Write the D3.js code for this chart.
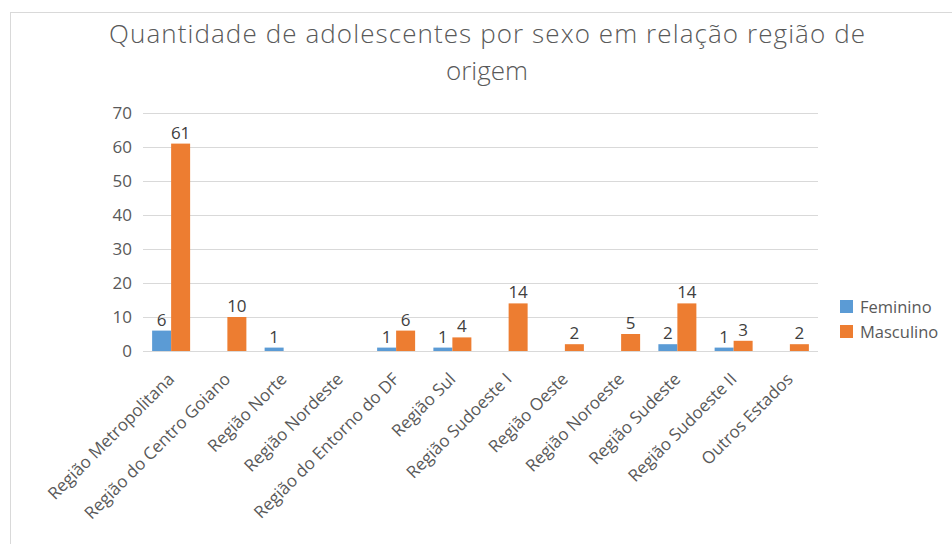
<!DOCTYPE html>
<html>
<head>
<meta charset="utf-8">
<script src="https://cdn.jsdelivr.net/npm/d3@7"></script>
<style>
  body { margin: 0; background: #fff; }
  text { font-family: "Open Sans", sans-serif; }
</style>
</head>
<body>
<div id="chart"></div>
<script>
const categories = [
  "Região Metropolitana", "Região do Centro Goiano", "Região Norte", "Região Nordeste",
  "Região do Entorno do DF", "Região Sul", "Região Sudoeste I", "Região Oeste",
  "Região Noroeste", "Região Sudeste", "Região Sudoeste II", "Outros Estados"
];
const feminino = [6, 0, 1, 0, 1, 1, 0, 0, 0, 2, 1, 0];
const masculino = [61, 10, 0, 0, 6, 4, 14, 2, 5, 14, 3, 2];
const seriesNames = ["Feminino", "Masculino"];
const yTicks = [0, 10, 20, 30, 40, 50, 60, 70];

const width = 952, height = 544;
const colors = ["#5b9bd5", "#ed7d31"];

const svg = d3.select("#chart").append("svg")
  .attr("width", width)
  .attr("height", height);

// chart border
svg.append("rect")
  .attr("x", 10.5).attr("y", 12.5)
  .attr("width", 960).attr("height", 560)
  .attr("fill", "none")
  .attr("stroke", "#d9d9d9");

// title, two lines
svg.append("text")
  .attr("x", 487).attr("y", 43)
  .attr("text-anchor", "middle")
  .attr("font-size", 26).attr("font-weight", 300)
  .attr("fill", "#595959")
  .attr("textLength", 756).attr("lengthAdjust", "spacing")
  .text("Quantidade de adolescentes por sexo em relação região de");
svg.append("text")
  .attr("x", 487).attr("y", 80)
  .attr("text-anchor", "middle")
  .attr("font-size", 26).attr("font-weight", 300)
  .attr("fill", "#595959")
  .text("origem");

const x = d3.scaleBand().domain(categories).range([143, 818]).paddingInner(0).paddingOuter(0);
const y = d3.scaleLinear().domain([0, 70]).range([351, 113]);
const barW = 19;

// gridlines
svg.append("g").selectAll("line")
  .data(yTicks)
  .join("line")
  .attr("x1", 143).attr("x2", 818)
  .attr("y1", d => y(d) + 0.5).attr("y2", d => y(d) + 0.5)
  .attr("stroke", "#d9d9d9");

// y axis labels
const yAxis = d3.axisLeft(y).tickValues(yTicks).tickSize(0).tickPadding(11);
svg.append("g")
  .attr("transform", "translate(143,0)")
  .call(yAxis)
  .call(g => g.select(".domain").remove())
  .call(g => g.selectAll("text").attr("font-size", 17).attr("fill", "#595959")
    .attr("font-family", "Open Sans, sans-serif"));

// bars
const series = [feminino, masculino];
series.forEach((vals, s) => {
  const g = svg.append("g");
  const data = vals.map((v, i) => ({ cat: categories[i], v }));
  const xOff = d => x(d.cat) + x.bandwidth() / 2 - barW + s * barW;
  g.selectAll("rect")
    .data(data.filter(d => d.v > 0))
    .join("rect")
    .attr("x", xOff)
    .attr("y", d => y(d.v))
    .attr("width", barW)
    .attr("height", d => y(0) - y(d.v))
    .attr("fill", colors[s]);
  g.selectAll("text")
    .data(data.filter(d => d.v > 0))
    .join("text")
    .attr("x", d => xOff(d) + barW / 2)
    .attr("y", d => y(d.v) - 5)
    .attr("text-anchor", "middle")
    .attr("font-size", 17)
    .attr("fill", "#404040")
    .text(d => d.v);
});

// x axis labels
const xAxis = d3.axisBottom(x).tickSize(0).tickPadding(0);
svg.append("g")
  .attr("transform", "translate(0,351)")
  .call(xAxis)
  .call(g => g.select(".domain").remove())
  .call(g => g.selectAll("text")
    .attr("font-size", 17).attr("fill", "#595959")
    .attr("font-family", "Open Sans, sans-serif")
    .attr("text-anchor", "end")
    .attr("dy", "0.35em")
    .attr("transform", "translate(0,25) rotate(-45)"));

// legend
const legend = svg.append("g").attr("transform", "translate(840,300)");
seriesNames.forEach((name, i) => {
  legend.append("rect")
    .attr("x", 0).attr("y", i * 25)
    .attr("width", 13).attr("height", 13)
    .attr("fill", colors[i]);
  legend.append("text")
    .attr("x", 20).attr("y", i * 25 + 13)
    .attr("font-size", 16.5).attr("fill", "#595959")
    .text(name);
});
</script>
</body>
</html>
